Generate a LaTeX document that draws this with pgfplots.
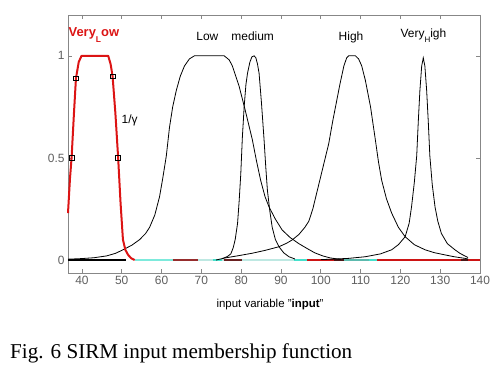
\documentclass[border=0pt]{standalone}
\usepackage{pgfplots}
\pgfplotsset{compat=1.18}
\usepackage{fontspec}
\setmainfont{Liberation Sans}
\newfontfamily\capfont{Liberation Serif}
\definecolor{axgray}{RGB}{135,135,135}
\definecolor{txtgray}{RGB}{95,95,95}
\definecolor{vlred}{RGB}{220,20,20}
\definecolor{cyanbar}{RGB}{70,225,205}
\definecolor{palecyan}{RGB}{190,232,226}
\definecolor{darkred}{RGB}{150,45,45}
\definecolor{barred}{RGB}{205,20,20}
\begin{document}
\begin{tikzpicture}
\begin{axis}[
  at={(0,0)}, anchor=south west,
  scale only axis, width=412bp, height=258bp,
  xmin=36.5, xmax=140, ymin=-0.0637, ymax=1.2,
  xtick={40,50,...,140},
  xticklabels={40,50,60,70,80,90,100,110,120,130,140},
  ytick={0,0.5,1}, yticklabels={0,0.5,1},
  axis line style={axgray, line width=0.8bp},
  tick style={axgray, line width=0.6bp},
  major tick length=4bp,
  ticklabel style={text=txtgray, font=\fontsize{12}{12}\selectfont},
  /pgf/number format/assume math mode=true,
  clip=false,
]
% bottom zero-level segments
\addplot[palecyan, line width=2bp] coordinates {(53.25,0) (140,0)};
\addplot[cyanbar!70!white, line width=2bp] coordinates {(53.25,0) (62.8,0)};
\addplot[darkred, line width=2bp] coordinates {(62.8,0) (69.1,0)};
\addplot[cyanbar, line width=2bp] coordinates {(72.8,0) (75.3,0)};
\addplot[darkred!70!black, line width=2bp] coordinates {(75.75,0) (80.25,0)};
\addplot[cyanbar, line width=2bp] coordinates {(93.25,0) (96.6,0)};
\addplot[barred, line width=2bp] coordinates {(96.6,0) (103.25,0)};
\addplot[darkred!50!black, line width=2bp] coordinates {(103.25,0) (105.75,0)};
\addplot[cyanbar!60!gray, line width=2bp] coordinates {(105.75,0) (112,0)};
\addplot[cyanbar, line width=2bp] coordinates {(112,0) (114.1,0)};
\addplot[barred, line width=2bp] coordinates {(114.1,0) (140,0)};
\addplot[darkred!50!black, line width=2bp] coordinates {(135.25,0) (137,0)};
\addplot[black, line width=1.6bp] coordinates {(36.5,0) (51,0)};
% Low
\addplot[black, line width=0.8bp] coordinates {
(36.5,0.004) (40,0.007) (43,0.011) (46.2,0.02) (48.5,0.033) (50.3,0.05) (52.5,0.072)
(54.5,0.1) (56,0.13) (57,0.16) (58.3,0.22) (59.5,0.31) (60.3,0.4) (61.2,0.51) (62,0.65)
(62.8,0.75) (63.7,0.83) (64.7,0.9) (65.75,0.95) (67,0.985) (68.25,1.0) (75.75,1.0)
(77,0.98) (77.8,0.95) (79.5,0.85) (81,0.735) (82.8,0.59) (83.8,0.49) (84.9,0.39)
(86,0.31) (87,0.26) (88.6,0.2) (90.3,0.147) (92.3,0.11) (94.5,0.08) (96.5,0.057)
(98.5,0.035) (100.5,0.02) (102.4,0.01) (105,0.003)};
% medium
\addplot[black, line width=0.8bp] coordinates {
(73.7,0) (75.5,0.008) (76.6,0.018) (77.4,0.03) (78,0.06) (78.5,0.1) (79.1,0.18)
(79.5,0.29) (79.9,0.42) (80.3,0.6) (80.75,0.75) (81.2,0.86) (81.6,0.915) (82.2,0.97)
(82.7,0.995) (83.25,1.0) (83.7,0.99) (84.1,0.96) (84.5,0.915) (85.1,0.77) (85.75,0.59)
(86.2,0.45) (86.6,0.34) (87.2,0.24) (87.8,0.16) (88.6,0.1) (89.5,0.065) (90.7,0.035)
(92,0.016) (93.5,0.005)};
% High
\addplot[black, line width=0.8bp] coordinates {
(75.3,0.008) (79,0.02) (82.75,0.033) (86,0.047) (89.5,0.065) (91.5,0.083) (92.8,0.098)
(94.5,0.125) (96,0.16) (97,0.19) (98,0.25) (99,0.33) (100,0.41) (101,0.49) (102,0.57)
(103,0.68) (104,0.78) (104.8,0.86) (105.8,0.95) (106.5,0.99) (107,1.0) (108.7,1.0)
(109.5,0.985) (110.3,0.95) (111.2,0.88) (112.5,0.75) (113.7,0.59) (114.5,0.48)
(115.3,0.39) (116.5,0.3) (117.8,0.23) (119.5,0.16) (121.2,0.114) (123.5,0.075)
(126.2,0.05) (128.5,0.036) (131.2,0.025) (133.5,0.016) (136.2,0.008) (137,0.005)};
% Very High
\addplot[black, line width=0.8bp] coordinates {
(100,0.002) (102.8,0.004) (107,0.008) (111.2,0.016) (115,0.03) (117.8,0.05)
(119.5,0.075) (121.2,0.114) (122.2,0.18) (122.8,0.26) (123.5,0.38) (124.1,0.51)
(124.5,0.68) (124.9,0.83) (125.35,0.95) (125.75,0.99) (126.15,0.95) (126.6,0.83)
(127,0.68) (127.4,0.51) (128,0.37) (128.7,0.26) (129.4,0.19) (130.3,0.13)
(131.8,0.08) (133.7,0.05) (135,0.032) (136.2,0.02) (137,0.012)};
% Very Low (red)
\addplot[vlred, line width=2bp, line join=round] coordinates {
(36.5,0.23) (37.0,0.40) (37.4,0.5) (38.0,0.72) (38.5,0.89) (39.2,0.97) (39.9,1.0)
(46.6,1.0) (47.2,0.96) (47.7,0.9) (48.4,0.72) (49.1,0.5) (49.7,0.28) (50.3,0.1)
(50.9,0.05) (51.6,0.025) (52.4,0.008) (53.25,0)};
\addplot[only marks, mark=square, mark size=2.4bp, black, line width=0.6bp] coordinates {
(38.5,0.89) (47.7,0.9) (37.4,0.5) (49.1,0.5)};
% labels
\node[anchor=base west, inner sep=0pt, text=vlred, font=\fontsize{13}{13}\selectfont\bfseries]
  at (axis cs:36.6,1.093) {Very\raisebox{-0.4em}{\fontsize{8.5}{8.5}\selectfont L}ow};
\node[anchor=base, inner sep=0pt, font=\fontsize{12}{12}\selectfont] at (axis cs:71.5,1.077) {Low};
\node[anchor=base, inner sep=0pt, font=\fontsize{12}{12}\selectfont] at (axis cs:82.9,1.077) {medium};
\node[anchor=base, inner sep=0pt, font=\fontsize{12}{12}\selectfont] at (axis cs:107.6,1.077) {High};
\node[anchor=base west, inner sep=0pt, font=\fontsize{12}{12}\selectfont]
  at (axis cs:120,1.09) {Very\raisebox{-0.4em}{\fontsize{8}{8}\selectfont H}igh};
\node[inner sep=0pt, font=\fontsize{12}{12}\selectfont] at (axis cs:52,0.686) {1/γ};
\end{axis}
\node[inner sep=0pt, font=\fontsize{11.5}{11.5}\selectfont] at (202bp,-32bp) {input variable "\textbf{input}"};
\node[anchor=base west, inner sep=0pt, font=\capfont\fontsize{21.2}{21.2}\selectfont] at (-58bp,-85bp) {Fig. 6 SIRM input membership function};
\pgfresetboundingbox
\path (-68bp,-97bp) rectangle (436bp,273bp);
\end{tikzpicture}
\end{document}
